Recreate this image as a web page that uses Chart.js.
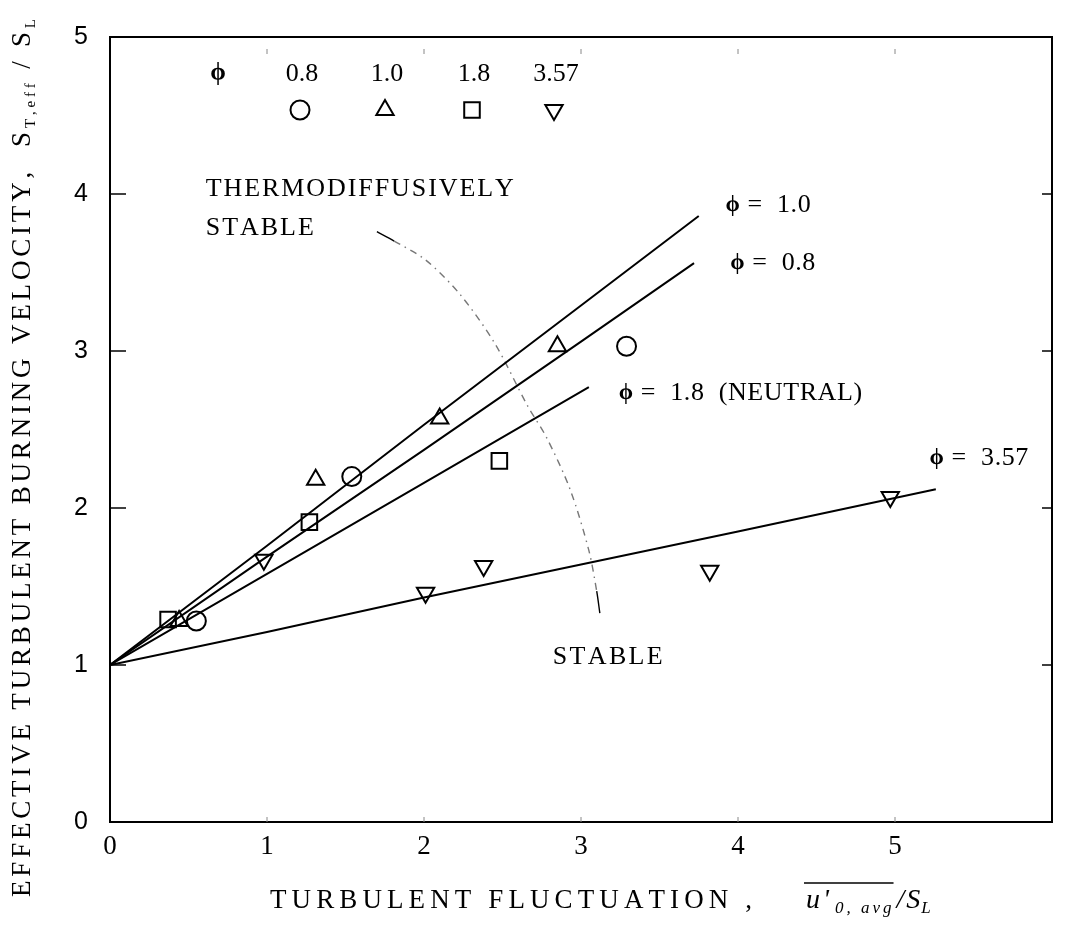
<!DOCTYPE html>
<html>
<head>
<meta charset="utf-8">
<script src="https://cdn.jsdelivr.net/npm/chart.js@4.4.1/dist/chart.umd.min.js"></script>
<style>
html,body{margin:0;padding:0;background:#fff;}
#wrap{width:1065px;height:926px;position:relative;}
</style>
</head>
<body>
<div id="wrap"><canvas id="c" width="1065" height="926"></canvas></div>
<script>
// ---- data ----
const xTickValues = [0, 1, 2, 3, 4, 5];
const yTickValues = [0, 1, 2, 3, 4, 5];
const phiValues = ['0.8', '1.0', '1.8', '3.57'];

// measured points
const phi08X = [0.55, 1.54, 3.29];
const phi08Y = [1.28, 2.20, 3.03];
const phi10X = [0.44, 1.31, 2.10, 2.85];
const phi10Y = [1.28, 2.18, 2.57, 3.03];
const phi18X = [0.37, 1.27, 2.48];
const phi18Y = [1.29, 1.91, 2.30];
const phi357X = [0.98, 2.01, 2.38, 3.82, 4.97];
const phi357Y = [1.67, 1.46, 1.63, 1.60, 2.07];

// correlation lines
const line10X = [0, 1, 2, 3, 3.75];
const line10Y = [1, 1.76, 2.53, 3.29, 3.86];
const line08X = [0, 1, 2, 3, 3.72];
const line08Y = [1, 1.69, 2.37, 3.06, 3.56];
const line18X = [0, 1, 2, 3.05];
const line18Y = [1, 1.58, 2.16, 2.77];
const line357X = [0, 1, 2, 3, 4, 5.26];
const line357Y = [1, 1.21, 1.43, 1.64, 1.85, 2.12];

// stability boundary (dash-dot curve)
const boundX = [1.70, 1.81, 2.01, 2.23, 2.45, 2.66, 2.78, 2.93, 3.05, 3.10, 3.12];
const boundY = [3.76, 3.70, 3.58, 3.36, 3.05, 2.65, 2.45, 2.12, 1.73, 1.47, 1.33];

const zip = (xs, ys) => xs.map((x, i) => ({x: x, y: ys[i]}));

const SERIF = "'Liberation Serif', 'DejaVu Serif', serif";
const SANS = "'Liberation Sans', 'DejaVu Sans', sans-serif";
const PHI = '\u03D5';

function lineDs(xs, ys) {
  return {data: zip(xs, ys), showLine: true, pointRadius: 0, borderColor: '#000',
          borderWidth: 2, fill: false, tension: 0, order: 2};
}
function markerDs(xs, ys, style, r, rot) {
  return {data: zip(xs, ys), showLine: false, pointStyle: style, pointRadius: r,
          pointRotation: rot || 0, pointBorderWidth: 2, pointBorderColor: '#000',
          pointBackgroundColor: 'rgba(0,0,0,0)', borderColor: '#000', order: 1};
}

const markerStyles = [
  {style: 'circle', r: 9.5, rot: 0},
  {style: 'triangle', r: 10, rot: 0},
  {style: 'rect', r: 11, rot: 0},
  {style: 'triangle', r: 10, rot: 180}
];

function drawRich(ctx, segs, x, y, spacing) {
  let cx = x;
  for (const s of segs) {
    ctx.font = s.font;
    const sp = (s.sp !== undefined) ? s.sp : spacing;
    for (const ch of s.t) {
      ctx.fillText(ch, cx, y + (s.dy || 0));
      cx += ctx.measureText(ch).width + sp;
    }
    cx += (s.gap || 0);
  }
  return cx;
}
function richWidth(ctx, segs) {
  let w = 0, n = 0;
  for (const s of segs) {
    ctx.font = s.font;
    for (const ch of s.t) { w += ctx.measureText(ch).width; n++; }
    w += (s.gap || 0);
  }
  return {w: w, n: n};
}
// draw text so that it spans a target width
function drawFit(ctx, segs, x, y, width) {
  const rw = richWidth(ctx, segs);
  const sp = Math.max(0, (width - rw.w) / Math.max(1, rw.n - 1));
  return drawRich(ctx, segs, x, y, sp);
}

const decor = {
  id: 'decor',
  afterDraw(chart) {
    const ctx = chart.ctx;
    const a = chart.chartArea;
    const xs = chart.scales.x, ys = chart.scales.y;
    ctx.save();
    ctx.strokeStyle = '#000';
    ctx.fillStyle = '#000';
    // frame
    ctx.lineWidth = 2;
    ctx.strokeRect(a.left, a.top, a.right - a.left, a.bottom - a.top);
    // inward ticks
    ctx.lineWidth = 1.5;
    for (const v of yTickValues) {
      if (v === 0 || v === 5) continue;
      const py = ys.getPixelForValue(v);
      ctx.beginPath(); ctx.moveTo(a.left, py); ctx.lineTo(a.left + 16, py); ctx.stroke();
      ctx.beginPath(); ctx.moveTo(a.right, py); ctx.lineTo(a.right - 10, py); ctx.stroke();
    }
    ctx.strokeStyle = '#888';
    ctx.lineWidth = 1;
    for (const v of xTickValues) {
      if (v === 0) continue;
      const px = xs.getPixelForValue(v);
      ctx.beginPath(); ctx.moveTo(px, a.bottom); ctx.lineTo(px, a.bottom - 5); ctx.stroke();
      ctx.beginPath(); ctx.moveTo(px, a.top + 12); ctx.lineTo(px, a.top + 17); ctx.stroke();
    }
    ctx.strokeStyle = '#000';

    // legend block
    ctx.textBaseline = 'middle';
    ctx.textAlign = 'center';
    ctx.font = 'bold 25px ' + SERIF;
    ctx.fillText(PHI, 218, 74);
    ctx.font = '26px ' + SERIF;
    const legX = [302, 387, 474, 556];
    phiValues.forEach((p, i) => {
      ctx.fillText(p, legX[i], 74);
      const m = markerStyles[i];
      ctx.lineWidth = 2;
      ctx.fillStyle = 'rgba(0,0,0,0)';
      Chart.helpers.drawPoint(ctx, {pointStyle: m.style, radius: m.r, rotation: m.rot, borderWidth: 2},
                              legX[i] - 2, 110);
      ctx.fillStyle = '#000';
    });

    // annotations (anchored in data space)
    ctx.textAlign = 'left';
    const F = '26px ' + SERIF, FP = 'bold 23px ' + SERIF;
    drawFit(ctx, [{t: 'THERMODIFFUSIVELY', font: F}], xs.getPixelForValue(0.61), ys.getPixelForValue(4.03), 308);
    drawFit(ctx, [{t: 'STABLE', font: F}], xs.getPixelForValue(0.61), ys.getPixelForValue(3.78), 108);
    drawFit(ctx, [{t: 'STABLE', font: F}], xs.getPixelForValue(2.82), ys.getPixelForValue(1.05), 110);
    const phiNotes = [
      {t: ' =  1.0', x: 3.92, y: 3.93},
      {t: ' =  0.8', x: 3.95, y: 3.56},
      {t: ' =  1.8  (NEUTRAL)', x: 3.24, y: 2.73},
      {t: ' =  3.57', x: 5.22, y: 2.32}
    ];
    for (const n of phiNotes) {
      drawRich(ctx, [{t: PHI, font: FP}, {t: n.t, font: F}], xs.getPixelForValue(n.x), ys.getPixelForValue(n.y), 0.6);
    }

    // x axis title
    ctx.textBaseline = 'alphabetic';
    const TY = 908;
    drawFit(ctx, [{t: 'TURBULENT FLUCTUATION ,', font: '27px ' + SERIF}], 270, TY, 482);
    const uStart = 806;
    const uEnd = drawRich(ctx, [{t: "u'", font: 'italic 28px ' + SERIF, sp: 3, gap: 3},
                               {t: '0, avg', font: 'italic 17px ' + SERIF, dy: 5, sp: 3}], uStart, TY, 3);
    ctx.lineWidth = 1.5;
    ctx.beginPath(); ctx.moveTo(uStart - 2, 883); ctx.lineTo(uEnd - 1, 883); ctx.stroke();
    drawRich(ctx, [{t: '/', font: 'italic 28px ' + SERIF, sp: 2}, {t: 'S', font: 'italic 28px ' + SERIF, sp: 1},
                   {t: 'L', font: 'italic 17px ' + SERIF, dy: 5}], uEnd + 2, TY, 1);

    // y axis title (rotated)
    const ysegs = [
      {t: 'EFFECTIVE TURBULENT BURNING VELOCITY,  ', font: '27px ' + SERIF},
      {t: 'S', font: '27px ' + SERIF},
      {t: 'T,eff', font: '15px ' + SERIF, dy: 5},
      {t: ' / S', font: '27px ' + SERIF},
      {t: 'L', font: '15px ' + SERIF, dy: 5}
    ];
    ctx.translate(30, 897);
    ctx.rotate(-Math.PI / 2);
    drawFit(ctx, ysegs, 0, 0, 878);
    ctx.restore();
  }
};

const datasets = [
  lineDs(line10X, line10Y),
  lineDs(line08X, line08Y),
  lineDs(line18X, line18Y),
  lineDs(line357X, line357Y),
  {data: zip(boundX, boundY), showLine: true, pointRadius: 0, borderColor: '#666', borderWidth: 1.4,
   tension: 0.3, order: 3,
   segment: {borderDash: c => (c.p0DataIndex === 0 || c.p0DataIndex >= boundX.length - 2) ? [] : [7, 5, 1.5, 5],
             borderColor: c => (c.p0DataIndex === 0 || c.p0DataIndex >= boundX.length - 2) ? '#000' : '#777'}},
  markerDs(phi08X, phi08Y, markerStyles[0].style, markerStyles[0].r, markerStyles[0].rot),
  markerDs(phi10X, phi10Y, markerStyles[1].style, markerStyles[1].r, markerStyles[1].rot),
  markerDs(phi18X, phi18Y, markerStyles[2].style, markerStyles[2].r, markerStyles[2].rot),
  markerDs(phi357X, phi357Y, markerStyles[3].style, markerStyles[3].r, markerStyles[3].rot)
];

new Chart(document.getElementById('c').getContext('2d'), {
  type: 'scatter',
  data: {datasets: datasets},
  options: {
    responsive: false,
    animation: false,
    layout: {padding: {top: 15, right: 2, left: 0, bottom: 0}},
    plugins: {legend: {display: false}, tooltip: {enabled: false}},
    scales: {
      x: {
        type: 'linear', min: 0, max: 6,
        afterFit(s) { s.height = 104; },
        afterBuildTicks(s) { s.ticks = xTickValues.map(v => ({value: v})); },
        grid: {display: false, drawTicks: false},
        border: {display: false},
        ticks: {color: '#000', font: {family: SERIF, size: 27}, padding: 9, maxRotation: 0, autoSkip: false}
      },
      y: {
        type: 'linear', min: 0, max: 5,
        afterFit(s) { s.width = 110; },
        afterBuildTicks(s) { s.ticks = yTickValues.map(v => ({value: v})); },
        grid: {display: false, drawTicks: false},
        border: {display: false},
        ticks: {color: '#000', font: {family: SANS, size: 25}, padding: 22}
      }
    }
  },
  plugins: [decor]
});
</script>
</body>
</html>
